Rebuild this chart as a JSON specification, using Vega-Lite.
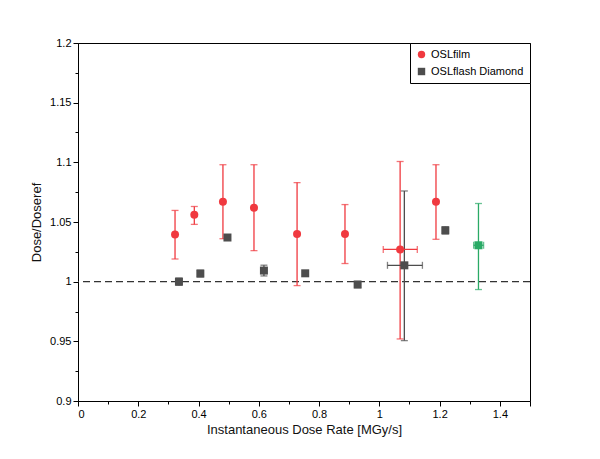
{
  "$schema": "https://vega.github.io/schema/vega-lite/v6.json",
  "description": "Dose/Dose_ref against instantaneous dose rate, OSL film and OSL flashDiamond",
  "autosize": "none",
  "width": 452,
  "height": 358,
  "padding": {"left": 78, "top": 43, "right": 70, "bottom": 58},
  "background": "white",
  "config": {
    "font": "Liberation Sans",
    "view": {"stroke": "black", "strokeWidth": 1},
    "axis": {
      "grid": false,
      "domainColor": "black",
      "tickColor": "black",
      "labelColor": "black",
      "titleColor": "#111",
      "labelFont": "Liberation Sans",
      "titleFont": "Liberation Sans",
      "labelFontSize": 11,
      "titleFontSize": 13,
      "titleFontWeight": "normal",
      "tickSize": 5,
      "labelPadding": 2
    }
  },
  "datasets": {
    "pts": [
      {"series": "OSLfilm", "x": 0.322, "y": 1.0395, "ylo": 1.019, "yhi": 1.0597},
      {"series": "OSLfilm", "x": 0.386, "y": 1.056, "ylo": 1.048, "yhi": 1.063},
      {"series": "OSLfilm", "x": 0.481, "y": 1.067, "ylo": 1.036, "yhi": 1.098},
      {"series": "OSLfilm", "x": 0.584, "y": 1.062, "ylo": 1.026, "yhi": 1.098},
      {"series": "OSLfilm", "x": 0.727, "y": 1.04, "ylo": 0.9967, "yhi": 1.083},
      {"series": "OSLfilm", "x": 0.886, "y": 1.04, "ylo": 1.0152, "yhi": 1.0646},
      {"series": "OSLfilm", "x": 1.069, "y": 1.027, "ylo": 0.952, "yhi": 1.1007, "xlo": 1.013, "xhi": 1.126},
      {"series": "OSLfilm", "x": 1.188, "y": 1.067, "ylo": 1.0355, "yhi": 1.098},
      {"series": "OSLflash Diamond", "x": 0.335, "y": 1.0, "ylo": 0.997, "yhi": 1.003},
      {"series": "OSLflash Diamond", "x": 0.406, "y": 1.0068, "ylo": 1.004, "yhi": 1.0096},
      {"series": "OSLflash Diamond", "x": 0.496, "y": 1.037},
      {"series": "OSLflash Diamond", "x": 0.617, "y": 1.0093, "ylo": 1.0048, "yhi": 1.0138},
      {"series": "OSLflash Diamond", "x": 0.754, "y": 1.007},
      {"series": "OSLflash Diamond", "x": 0.928, "y": 0.9976, "ylo": 0.995, "yhi": 1.0002},
      {"series": "OSLflash Diamond", "x": 1.083, "y": 1.0137, "ylo": 0.9506, "yhi": 1.076, "xlo": 1.027, "xhi": 1.143},
      {"series": "OSLflash Diamond", "x": 1.219, "y": 1.043, "ylo": 1.04, "yhi": 1.046},
      {"series": "reference", "x": 1.329, "y": 1.0305, "ylo": 0.9934, "yhi": 1.0655, "xlo": 1.313, "xhi": 1.346}
    ],
    "baseline": [{"level": 1}]
  },
  "resolve": {
    "scale": {"x": "shared", "y": "shared", "color": "shared", "shape": "shared"},
    "axis": {"x": "independent", "y": "independent"},
    "legend": {"color": "independent", "shape": "independent"}
  },
  "layer": [
    {
      "data": {"name": "pts"},
      "mark": {"type": "point", "opacity": 0},
      "encoding": {
        "x": {
          "field": "x", "type": "quantitative",
          "scale": {"domain": [0, 1.5], "nice": false, "zero": false},
          "axis": {
            "orient": "bottom", "values": [0.1, 0.3, 0.5, 0.7, 0.9, 1.1, 1.3],
            "labels": false, "domain": false, "tickSize": 3, "title": null
          }
        },
        "y": {
          "field": "y", "type": "quantitative",
          "scale": {"domain": [0.9, 1.2], "nice": false, "zero": false},
          "axis": {
            "orient": "left", "values": [0.925, 0.975, 1.025, 1.075, 1.125, 1.175],
            "labels": false, "domain": false, "tickSize": 3, "title": null
          }
        }
      }
    },
    {
      "data": {"name": "baseline"},
      "mark": {"type": "rule", "color": "#333333", "strokeWidth": 1.2, "strokeDash": [7, 4]},
      "encoding": {
        "y": {"field": "level", "type": "quantitative", "axis": null}
      }
    },
    {
      "data": {"name": "pts"},
      "transform": [{"filter": "isValid(datum.ylo)"}],
      "mark": {
        "type": "errorbar",
        "ticks": {"size": 7, "thickness": 1.3},
        "rule": {"strokeWidth": 1.3}
      },
      "encoding": {
        "x": {"field": "x", "type": "quantitative", "axis": null},
        "y": {"field": "ylo", "type": "quantitative", "axis": null},
        "y2": {"field": "yhi"},
        "color": {"field": "series", "type": "nominal", "legend": null}
      }
    },
    {
      "data": {"name": "pts"},
      "transform": [{"filter": "isValid(datum.xlo)"}],
      "mark": {
        "type": "errorbar",
        "ticks": {"size": 7, "thickness": 1.3},
        "rule": {"strokeWidth": 1.3}
      },
      "encoding": {
        "y": {"field": "y", "type": "quantitative", "axis": null},
        "x": {"field": "xlo", "type": "quantitative", "axis": null},
        "x2": {"field": "xhi"},
        "color": {"field": "series", "type": "nominal", "legend": null}
      }
    },
    {
      "data": {"name": "pts"},
      "mark": {"type": "point", "filled": true, "size": 64, "opacity": 1},
      "encoding": {
        "x": {
          "field": "x", "type": "quantitative",
          "axis": {
            "orient": "bottom",
            "values": [0, 0.2, 0.4, 0.6, 0.8, 1, 1.2, 1.4, 1.5],
            "labelExpr": "datum.value == 1.5 ? '' : '' + datum.value",
            "title": "Instantaneous Dose Rate [MGy/s]",
            "titlePadding": 4
          }
        },
        "y": {
          "field": "y", "type": "quantitative",
          "axis": {
            "orient": "left",
            "values": [0.9, 0.95, 1, 1.05, 1.1, 1.15, 1.2],
            "labelExpr": "'' + datum.value",
            "title": "Dose/Doseref",
            "titlePadding": 6
          }
        },
        "color": {
          "field": "series", "type": "nominal",
          "scale": {
            "domain": ["OSLfilm", "OSLflash Diamond", "reference"],
            "range": ["#F0393F", "#4D4D4D", "#2AAA66"]
          },
          "legend": {
            "values": ["OSLfilm", "OSLflash Diamond"],
            "title": null,
            "orient": "top-right",
            "offset": 0,
            "strokeColor": "black",
            "fillColor": "white",
            "padding": 6,
            "rowPadding": 5,
            "labelFontSize": 11,
            "labelColor": "black",
            "symbolSize": 55,
            "symbolStrokeWidth": 0
          }
        },
        "shape": {
          "field": "series", "type": "nominal",
          "scale": {
            "domain": ["OSLfilm", "OSLflash Diamond", "reference"],
            "range": ["circle", "square", "square"]
          },
          "legend": {
            "values": ["OSLfilm", "OSLflash Diamond"],
            "title": null,
            "orient": "top-right",
            "offset": 0,
            "strokeColor": "black",
            "fillColor": "white",
            "padding": 6,
            "rowPadding": 5,
            "labelFontSize": 11,
            "labelColor": "black",
            "symbolSize": 55,
            "symbolStrokeWidth": 0
          }
        }
      }
    }
  ]
}
